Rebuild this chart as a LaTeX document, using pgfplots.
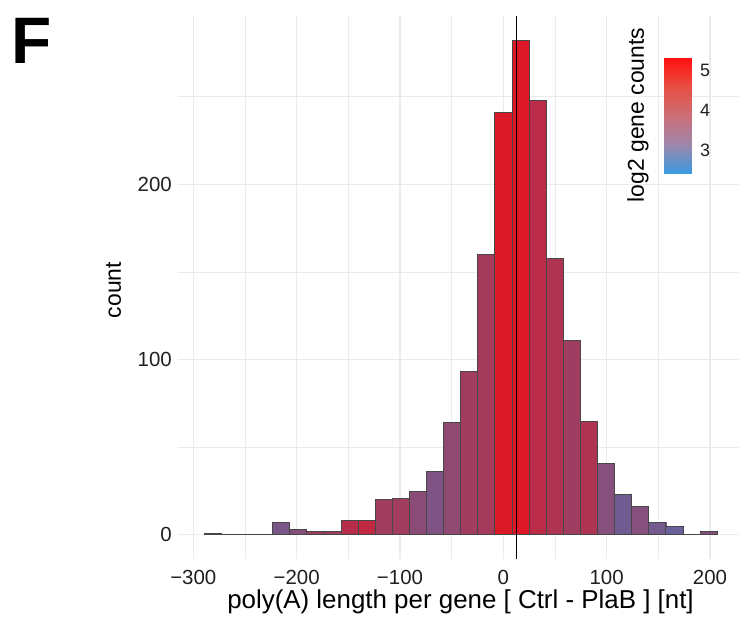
\documentclass[border=0pt]{standalone}
\usepackage{pgfplots}
\pgfplotsset{compat=1.18}
\usepgfplotslibrary{patchplots}
\usepackage{pgfplotstable}
\usepackage{fontspec}
\setmainfont{Liberation Sans}
\definecolor{gridc}{HTML}{EBEBEB}

% histogram: bin centre, count, colour value (log2 gene counts)
\pgfplotstableread{
x cnt c
-281.35 1 2.42
-264.8 0 3.0
-248.25 0 3.0
-231.7 0 3.0
-215.15 7 3.2
-198.6 3 3.45
-182.05 2 3.95
-165.5 2 3.95
-148.95 8 4.4
-132.4 8 4.6
-115.85 20 3.95
-99.3 21 3.95
-82.75 25 3.5
-66.2 36 3.3
-49.65 64 3.6
-33.1 93 3.95
-16.55 160 4.0
0 241 5.25
16.55 282 5.29
33.1 248 4.45
49.65 158 4.2
66.2 111 3.9
82.75 65 4.2
99.3 41 3.4
115.85 23 3.05
132.4 16 3.4
148.95 7 3.1
165.5 5 2.95
182.05 0 3.0
198.6 2 3.45
}\bins

% the same bins as filled rectangles (4 corners each), coloured by value
\pgfplotstableread{
x y c
-289.625 0 2.42
-273.075 0 2.42
-273.075 1 2.42
-289.625 1 2.42
-223.425 0 3.2
-206.875 0 3.2
-206.875 7 3.2
-223.425 7 3.2
-206.875 0 3.45
-190.325 0 3.45
-190.325 3 3.45
-206.875 3 3.45
-190.325 0 3.95
-173.775 0 3.95
-173.775 2 3.95
-190.325 2 3.95
-173.775 0 3.95
-157.225 0 3.95
-157.225 2 3.95
-173.775 2 3.95
-157.225 0 4.4
-140.675 0 4.4
-140.675 8 4.4
-157.225 8 4.4
-140.675 0 4.6
-124.125 0 4.6
-124.125 8 4.6
-140.675 8 4.6
-124.125 0 3.95
-107.575 0 3.95
-107.575 20 3.95
-124.125 20 3.95
-107.575 0 3.95
-91.025 0 3.95
-91.025 21 3.95
-107.575 21 3.95
-91.025 0 3.5
-74.475 0 3.5
-74.475 25 3.5
-91.025 25 3.5
-74.475 0 3.3
-57.925 0 3.3
-57.925 36 3.3
-74.475 36 3.3
-57.925 0 3.6
-41.375 0 3.6
-41.375 64 3.6
-57.925 64 3.6
-41.375 0 3.95
-24.825 0 3.95
-24.825 93 3.95
-41.375 93 3.95
-24.825 0 4.0
-8.275 0 4.0
-8.275 160 4.0
-24.825 160 4.0
-8.275 0 5.25
8.275 0 5.25
8.275 241 5.25
-8.275 241 5.25
8.275 0 5.29
24.825 0 5.29
24.825 282 5.29
8.275 282 5.29
24.825 0 4.45
41.375 0 4.45
41.375 248 4.45
24.825 248 4.45
41.375 0 4.2
57.925 0 4.2
57.925 158 4.2
41.375 158 4.2
57.925 0 3.9
74.475 0 3.9
74.475 111 3.9
57.925 111 3.9
74.475 0 4.2
91.025 0 4.2
91.025 65 4.2
74.475 65 4.2
91.025 0 3.4
107.575 0 3.4
107.575 41 3.4
91.025 41 3.4
107.575 0 3.05
124.125 0 3.05
124.125 23 3.05
107.575 23 3.05
124.125 0 3.4
140.675 0 3.4
140.675 16 3.4
124.125 16 3.4
140.675 0 3.1
157.225 0 3.1
157.225 7 3.1
140.675 7 3.1
157.225 0 2.95
173.775 0 2.95
173.775 5 2.95
157.225 5 2.95
190.325 0 3.45
206.875 0 3.45
206.875 2 3.45
190.325 2 3.45
}\rects

\begin{document}
\begin{tikzpicture}
\path[use as bounding box] (0,0) rectangle (739bp,621bp);
\begin{axis}[
  at={(177.5bp,61.6bp)}, anchor=south west,
  scale only axis, width=561.5bp, height=543.5bp,
  xmin=-315.3, xmax=228.1, ymin=-14.1, ymax=296.1,
  axis line style={draw=none},
  tick style={draw=none}, major tick length=0pt, minor tick length=0pt,
  xtick={-300,-200,-100,0,100,200},
  xticklabels={−300,−200,−100,0,100,200},
  minor xtick={-250,-150,-50,50,150},
  ytick={0,100,200}, yticklabels={0,100,200},
  minor ytick={50,150,250},
  grid=both,
  major grid style={gridc, line width=1.1bp},
  minor grid style={gridc, line width=0.6bp},
  ticklabel style={font=\fontsize{20.5}{20.5}\selectfont, text=black!88, inner sep=0pt},
  xticklabel style={anchor=north, yshift=-11bp},
  yticklabel style={anchor=east, xshift=-5.5bp},
  colormap={bars}{rgb255=(49,131,192) rgb255=(110,94,150) rgb255=(142,74,114) rgb255=(172,54,85) rgb255=(198,36,61) rgb255=(222,24,38)},
  point meta min=2.42, point meta max=5.29,
]
\addplot[patch, patch type=rectangle, shader=flat, point meta=explicit]
  table[x=x, y=y, meta=c] \rects;
\addplot[ybar, bar width=16.55, draw=black!72, fill=none, line width=0.55bp]
  table[x=x, y=cnt] \bins;
\addplot[black, line width=1.1bp] coordinates {(13,-14.1) (13,296.1)};
\end{axis}

\begin{axis}[
  at={(664bp,447.7bp)}, anchor=south west,
  scale only axis, width=27.7bp, height=115bp,
  xmin=0, xmax=1, ymin=2.4175, ymax=5.2925,
  axis line style={draw=none},
  xtick=\empty, ytick={3,4,5}, yticklabels={3,4,5},
  yticklabel pos=right, ytick pos=both,
  tick align=inside, major tick length=4bp,
  major tick style={white, line width=0.8bp},
  yticklabel style={font=\fontsize{18}{18}\selectfont, text=black!88, anchor=west, inner sep=0pt, xshift=8.3bp},
  colormap={leg}{rgb255=(58,155,224) rgb255=(159,134,170) rgb255=(203,110,118) rgb255=(233,79,67) rgb255=(255,16,16)},
  point meta min=2.4175, point meta max=5.2925,
]
\addplot[surf, shader=interp, point meta=y] coordinates {
(0,2.4175) (1,2.4175)

(0,5.2925) (1,5.2925)
};
\end{axis}

\node[anchor=base west, inner sep=0pt, font=\fontsize{66}{66}\selectfont\bfseries] at (11.2bp,557bp) {F};
\node[anchor=base, inner sep=0pt, font=\fontsize{26}{26}\selectfont] at (460.5bp,12.3bp) {poly(A) length per gene [ Ctrl - PlaB ] [nt]};
\node[rotate=90, inner sep=0pt, font=\fontsize{23}{23}\selectfont] at (113.5bp,331bp) {count};
\node[rotate=90, inner sep=0pt, font=\fontsize{23}{23}\selectfont] at (638bp,506bp) {log2 gene counts};
\end{tikzpicture}
\end{document}
